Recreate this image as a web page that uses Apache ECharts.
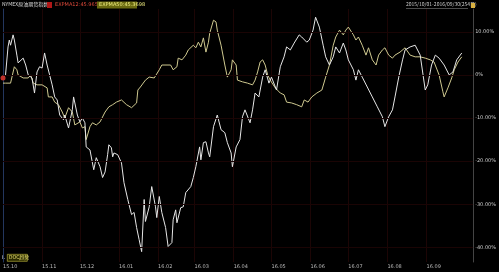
<!DOCTYPE html>
<html><head><meta charset="utf-8">
<script src="https://cdn.jsdelivr.net/npm/echarts@6/dist/echarts.min.js"></script>
<style>html,body{margin:0;padding:0;background:#000;}#c{width:499px;height:272px;}</style>
</head><body><div id="c"></div>
<script>
// day offsets since 2015-10-01 and % change values
const stockDay = [0,2,4,5,6,8,9,11,12,16,18,20,23,25,27,29,31,33,35,37,39,41,43,45,48,49,52,55,56,59,61,63,65,66,69,72,74,77,79,81,83,84,86,87,88,91,94,96,99,102,104,106,108,110,112,113,116,118,121,122,124,126,129,131,134,135,137,138,141,143,145,149,151,153,156,157,159,161,163,164,167,170,173,176,178,181,182,185,188,190,192,196,198,200,203,206,208,211,213,217,220,223,225,228,231,235,237,241,243,246,248,251,254,256,259,262,264,267,270,272,274,278,280,282,285,289,293,297,301,303,306,309,311,314,317,319,323,327,331,335,337,340,343,346,350,354,357,360,364];
const stockPct = [-0.7,0,6.5,8.1,6.9,9.3,8.1,4.6,2.8,3.9,2.3,0,-0.7,-4.2,0.7,1.9,1.6,5.1,2.3,0,-2.3,-5.1,-5.8,-9.3,-10.4,-9.3,-12.3,-8.1,-5.1,-9.3,-10.9,-10,-11.1,-16.7,-17.4,-22,-19.2,-21.3,-23.8,-22.5,-18.5,-16.2,-16.9,-19,-18.1,-18.5,-20.4,-25,-28.9,-32.4,-31.9,-35.4,-38.2,-41,-28.9,-34,-30.6,-25.9,-30.6,-33.1,-28.2,-31.9,-35.4,-39.8,-38.9,-33.6,-31.3,-34.3,-30.8,-30.6,-27.3,-25.9,-23.8,-21.3,-16.7,-19.7,-15.7,-15.5,-18.1,-19,-12,-9.3,-12.7,-13.4,-15.7,-18.1,-21.3,-16.7,-15,-9.7,-8.1,-11.1,-8.1,-4.2,-5.1,-0.5,1.2,-1.9,-0.5,-3.5,1.9,4.2,6.5,5.8,7.4,9.3,8.8,7.6,8.1,10.4,13.4,11.1,6.9,4.2,2.3,4.2,6.5,5.1,7.4,5.8,3.5,1.2,-1.2,1.2,-0.5,-2.8,-5.1,-7.4,-9.7,-12,-9.7,-8.1,-5.1,-0.5,3.5,5.8,6.5,6.9,4.6,-3.5,-2.3,2.3,4.6,3.9,2.3,0,0.7,3.5,5.1];
const indexDay = [0,2,6,9,11,12,16,20,22,24,27,31,35,36,39,41,44,47,49,52,55,57,61,63,65,66,69,71,74,77,81,84,87,90,94,98,102,106,107,109,113,116,120,124,126,133,135,138,139,142,145,147,151,153,155,157,159,161,163,164,167,169,170,173,176,178,181,182,185,186,190,194,198,200,202,204,206,208,210,212,216,220,223,225,229,233,237,239,242,245,249,253,256,259,262,264,267,270,272,274,278,280,282,285,288,290,293,296,298,301,303,306,309,311,315,319,323,327,331,335,339,342,346,349,350,353,356,358,361,364];
const indexPct = [-1.9,-1.9,-1.9,1.9,1.2,0,-0.7,-0.7,0,-1.9,-2.3,-2.3,-3,-5.1,-5.1,-6.3,-6.9,-8.6,-10,-7.6,-8.6,-11.6,-10.9,-12.3,-12,-15,-12,-11.1,-11.6,-10.9,-8.6,-7.4,-6.9,-6.3,-5.8,-6.9,-7.6,-6.5,-3.5,-2.8,-1.2,-0.5,-0.7,1.2,2.3,2.3,1.2,1.9,3.9,3.5,4.6,5.8,6.9,6.3,7.6,6.5,8.6,5.3,7.6,9.7,12.7,12.3,10.4,6.9,2.3,-0.5,1.2,3.5,2.3,-1.2,-1.6,-1.9,-2.3,-1.2,0.7,3,3.5,2.3,0,-1.2,-3,-4.2,-4.6,-6.3,-6.5,-6.9,-7.4,-5.8,-6.3,-5.1,-4.2,-3.5,-0.5,2.3,6.9,8.8,10.4,9.3,10.4,11.1,9.3,8.1,8.8,6.9,4.6,6.3,3.5,2.3,4.6,5.8,6.3,4.6,3.9,4.6,5.3,6.3,4.6,4.2,4.2,3.9,3.5,3,0,-3.9,-5.1,-3,-0.7,1.2,3,4.2];
const yTicks = [10,0,-10,-20,-30,-40];

// calendar categories
const categories = [];
{
  const d = new Date(Date.UTC(2015,9,1));
  for (let i=0;i<374;i++){
    categories.push(d.toISOString().slice(0,10));
    d.setUTCDate(d.getUTCDate()+1);
  }
}
const isMonthStart = (i) => i < 366 && categories[i].slice(8,10)==='01';

const chart = echarts.init(document.getElementById('c'), null, {renderer:'canvas'});
const small = {fontFamily:'DejaVu Sans', fontSize:5};
chart.setOption({
  backgroundColor:'#000',
  animation:false,
  grid:{left:2,right:20,top:9,bottom:10},
  xAxis:{
    type:'category', data:categories, boundaryGap:false,
    axisLine:{show:true,lineStyle:{color:'#666',width:1}},
    axisTick:{show:false},
    axisLabel:{interval:(i)=>isMonthStart(i), formatter:(v)=>v.slice(2,4)+'.'+v.slice(5,7),
      color:'#bbb', align:'left', margin:2, ...small},
    splitLine:{show:true, interval:(i)=>isMonthStart(i) && i>0, lineStyle:{color:'#1c0505',width:1}}
  },
  yAxis:[{
    type:'value', position:'right', min:-43.4, max:15.3,
    axisLine:{show:true,lineStyle:{color:'#444'}},
    axisTick:{show:false, customValues:yTicks},
    axisLabel:{customValues:yTicks, color:'#ccc', margin:2,
      formatter:(v)=> v===0 ? '0%' : v.toFixed(2)+'%', ...small},
    splitLine:{show:false}
  },{
    type:'value', position:'left', min:-43.4, max:15.3,
    axisLine:{show:true,lineStyle:{color:'#23365e'}},
    axisTick:{show:false}, axisLabel:{show:false}, splitLine:{show:false}
  }],
  series:[{
    type:'line', name:'index', data:indexDay.map((d,i)=>[d,indexPct[i]]),
    showSymbol:false, lineStyle:{color:'#cfc990',width:1}, z:2,
    markLine:{silent:true, symbol:'none', label:{show:false}, emphasis:{disabled:true},
      lineStyle:{color:'#1a0404',width:1,type:'solid',opacity:1},
      data:yTicks.map(v=>({yAxis:v, lineStyle:{color:'#1a0404'}}))}
  },{
    type:'line', name:'stock', data:stockDay.map((d,i)=>[d,stockPct[i]]),
    showSymbol:false, lineStyle:{color:'#e6e6e6',width:1}, z:3,
    markPoint:{symbol:'circle', symbolSize:5, itemStyle:{color:'#c0302a'}, label:{show:false},
      data:[{coord:[0,-0.7]}]}
  }],
  graphic:[
    {type:'text', left:2, top:2, style:{text:'NYMEX原油期货指数', fill:'#ddd', font:'5px "Noto Sans CJK SC"'}},
    {type:'rect', left:47, top:2, shape:{width:5,height:6}, style:{fill:'#b01818'}},
    {type:'text', left:55, top:2, style:{text:'EXPMA12:45.9657', fill:'#e04a3a', font:'5px "DejaVu Sans"'}},
    {type:'rect', left:97, top:1.5, shape:{width:40,height:7}, style:{fill:'#6a6a10'}},
    {type:'text', left:99, top:2, style:{text:'EXPMA50:45.3698', fill:'#f0ee80', font:'5px "DejaVu Sans"'}},
    {type:'text', left:406, top:2, style:{text:'2015/10/01-2016/09/30(254日)', fill:'#ccc', font:'5px "Noto Sans CJK SC"'}},
    {type:'rect', left:406, top:8, shape:{width:62,height:0.6}, style:{fill:'#999'}},
    {type:'rect', left:471, top:3, shape:{width:4,height:5}, style:{fill:'#d8b040'}},
    {type:'text', left:2, top:255, style:{text:'L', fill:'#ddd', font:'5px "DejaVu Sans"'}},
    {type:'rect', left:7, top:254, shape:{width:20,height:7}, style:{fill:'#2a2a00', stroke:'#c8c040', lineWidth:0.6}},
    {type:'text', left:9, top:255, style:{text:'DOC趋势', fill:'#e8e070', font:'5px "Noto Sans CJK SC"'}}
  ]
});
</script></body></html>
